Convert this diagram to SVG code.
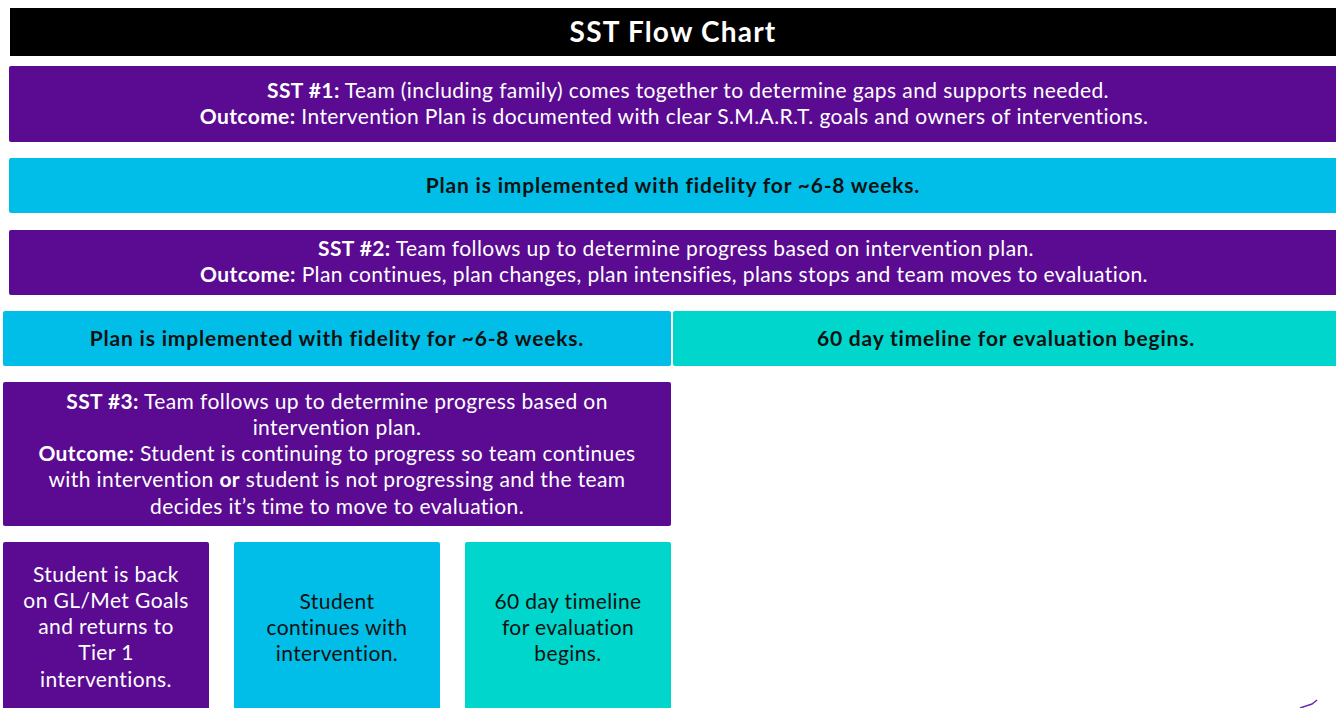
<svg xmlns="http://www.w3.org/2000/svg" width="1336" height="708" viewBox="0 0 1336 708">
<style>
text{font-family:"Lato","Noto Sans","Liberation Sans",sans-serif;font-size:21px;text-anchor:middle;letter-spacing:0.4px}
.w{fill:#ffffff}
.d{fill:#111111}
.b{font-weight:bold}
.bl{font-weight:bold;letter-spacing:0.8px}
.h{font-weight:bold;font-size:28px;letter-spacing:1.2px}
.p{fill:#5a0b92}
.c{fill:#00bee8}
.t{fill:#00d6cb}
</style>
<rect width="1336" height="708" fill="#ffffff"/>
<g id="title">
<rect x="10" y="8" width="1330" height="48" fill="#000000"/>
<text x="673" y="42" class="w h">SST Flow Chart</text>
</g>
<g id="sst1">
<rect x="9" y="66" width="1332" height="76" rx="2" class="p"/>
<text x="688" y="98" class="w"><tspan class="b">SST #1:</tspan> Team (including family) comes together to determine gaps and supports needed.</text>
<text x="674" y="124" class="w"><tspan class="b">Outcome:</tspan> Intervention Plan is documented with clear S.M.A.R.T. goals and owners of interventions.</text>
</g>
<g id="plan1">
<rect x="9" y="158" width="1332" height="55" rx="2" class="c"/>
<text x="673" y="193" class="d bl">Plan is implemented with fidelity for ~6-8 weeks.</text>
</g>
<g id="sst2">
<rect x="9" y="230" width="1332" height="65" rx="2" class="p"/>
<text x="676" y="256" class="w"><tspan class="b">SST #2:</tspan> Team follows up to determine progress based on intervention plan.</text>
<text x="674" y="282" class="w"><tspan class="b">Outcome:</tspan> Plan continues, plan changes, plan intensifies, plans stops and team moves to evaluation.</text>
</g>
<g id="plan2">
<rect x="3" y="311" width="668" height="55" rx="2" class="c"/>
<text x="337" y="346" class="d bl">Plan is implemented with fidelity for ~6-8 weeks.</text>
</g>
<g id="eval1">
<rect x="673" y="311" width="668" height="55" rx="2" class="t"/>
<text x="1006" y="346" class="d bl">60 day timeline for evaluation begins.</text>
</g>
<g id="sst3">
<rect x="3" y="382" width="668" height="144" rx="2" class="p"/>
<text x="337" y="409" class="w"><tspan class="b">SST #3:</tspan> Team follows up to determine progress based on</text>
<text x="337" y="435" class="w">intervention plan.</text>
<text x="337" y="461" class="w"><tspan class="b">Outcome:</tspan> Student is continuing to progress so team continues</text>
<text x="337" y="487" class="w">with intervention <tspan class="b">or</tspan> student is not progressing and the team</text>
<text x="337" y="514" class="w">decides it’s time to move to evaluation.</text>
</g>
<g id="tier1">
<rect x="3" y="542" width="206" height="170" rx="2" class="p"/>
<text x="106" y="582" class="w">Student is back</text>
<text x="106" y="608" class="w">on GL/Met Goals</text>
<text x="106" y="634" class="w">and returns to</text>
<text x="106" y="660" class="w">Tier 1</text>
<text x="106" y="687" class="w">interventions.</text>
</g>
<g id="continue">
<rect x="234" y="542" width="206" height="170" rx="2" class="c"/>
<text x="337" y="609" class="d">Student</text>
<text x="337" y="635" class="d">continues with</text>
<text x="337" y="661" class="d">intervention.</text>
</g>
<g id="eval2">
<rect x="465" y="542" width="206" height="170" rx="2" class="t"/>
<text x="568" y="609" class="d">60 day timeline</text>
<text x="568" y="635" class="d">for evaluation</text>
<text x="568" y="661" class="d">begins.</text>
</g>
<g id="connectors">
<path d="M1300 708 L1312 704 L1317 700" fill="none" stroke="#6a2fb0" stroke-width="1.5"/>
</g>
</svg>
